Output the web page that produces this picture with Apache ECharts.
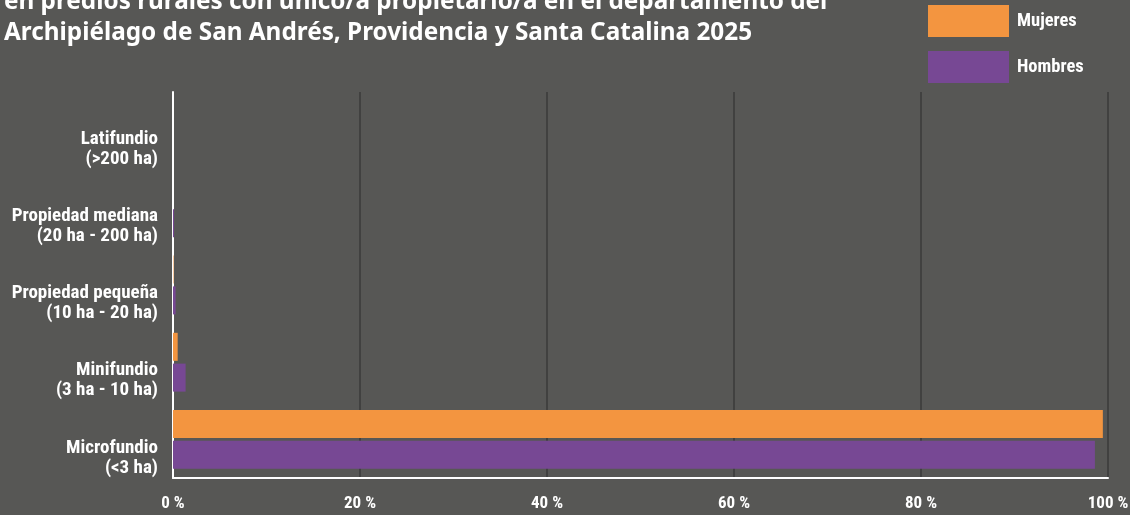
<!DOCTYPE html>
<html>
<head>
<meta charset="utf-8">
<script src="https://cdn.jsdelivr.net/npm/echarts@6/dist/echarts.min.js"></script>
<style>
  html, body { margin: 0; padding: 0; background: #575755; }
  #chart { width: 1130px; height: 515px; }
</style>
</head>
<body>
<div id="chart"></div>
<script>
var categories = [
    'Latifundio\n(>200 ha)',
    'Propiedad mediana\n(20 ha - 200 ha)',
    'Propiedad pequeña\n(10 ha - 20 ha)',
    'Minifundio\n(3 ha - 10 ha)',
    'Microfundio\n(<3 ha)'
];
var mujeres = [0, 0, 0.05, 0.5, 99.45];
var hombres = [0, 0.12, 0.28, 1.35, 98.6];
var xTicks = [0, 20, 40, 60, 80, 100];

var labelFont = '"Roboto Condensed", Roboto, sans-serif';

var myChart = echarts.init(document.getElementById('chart'));
var option = {
    backgroundColor: '#575755',
    animation: false,
    title: {
        text: 'en predios rurales con único/a propietario/a en el departamento del\nArchipiélago de San Andrés, Providencia y Santa Catalina 2025',
        left: -1,
        top: -18,
        textStyle: {
            color: '#ffffff',
            fontFamily: '"Noto Sans", sans-serif',
            fontWeight: 'bold',
            fontSize: 24.3,
            lineHeight: 31
        }
    },
    legend: {
        data: ['Mujeres', 'Hombres'],
        orient: 'vertical',
        left: 928,
        top: 5,
        padding: 0,
        itemWidth: 81,
        itemHeight: 32,
        itemGap: 14,
        icon: 'rect',
        textStyle: {
            color: '#ffffff',
            fontFamily: labelFont,
            fontWeight: 'bold',
            fontSize: 18.5,
            padding: [0, 0, 0, 3]
        }
    },
    grid: {
        left: 173,
        right: 22,
        top: 92,
        bottom: 37,
        containLabel: false,
        outerBoundsMode: 'none'
    },
    xAxis: {
        type: 'value',
        min: xTicks[0],
        max: xTicks[xTicks.length - 1],
        interval: 20,
        axisLine: { show: true, lineStyle: { color: '#ffffff', width: 2 } },
        axisTick: { show: false },
        splitLine: { show: true, lineStyle: { color: '#3a3a3a', width: 1.5 } },
        axisLabel: {
            color: '#ffffff',
            fontFamily: labelFont,
            fontWeight: 'bold',
            fontSize: 17,
            margin: 17,
            formatter: '{value} %'
        }
    },
    yAxis: {
        type: 'category',
        inverse: true,
        data: categories,
        axisLine: { show: true, lineStyle: { color: '#ffffff', width: 2 } },
        axisTick: { show: false },
        splitLine: { show: false },
        axisLabel: {
            margin: 15,
            align: 'right',
            // los rótulos quedan algo más abajo que el centro de cada franja
            formatter: function(value) {
                var parts = value.split('\n');
                return '{e| }\n{a|' + parts[0] + '}\n{a|' + parts[1] + '}';
            },
            rich: {
                e: { lineHeight: 37, fontSize: 10 },
                a: {
                    color: '#ffffff',
                    fontFamily: labelFont,
                    fontWeight: 'bold',
                    fontSize: 19,
                    lineHeight: 20
                }
            }
        }
    },
    series: [
        {
            name: 'Mujeres',
            type: 'bar',
            data: mujeres,
            barWidth: 28,
            barGap: '10%',
            itemStyle: { color: '#f39540' }
        },
        {
            name: 'Hombres',
            type: 'bar',
            data: hombres,
            barWidth: 28,
            barGap: '10%',
            itemStyle: { color: '#774894' }
        }
    ]
};
myChart.setOption(option);
</script>
</body>
</html>
